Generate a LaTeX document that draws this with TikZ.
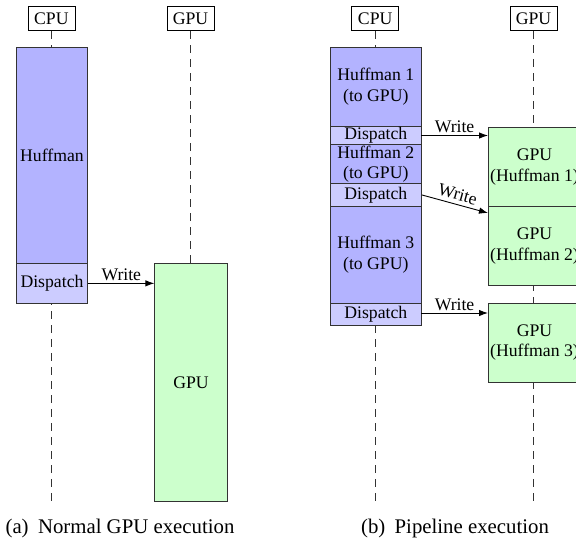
\documentclass[tikz,border=0pt]{standalone}
\usepackage{fontspec}
\setmainfont{Liberation Serif}
\usetikzlibrary{arrows.meta}
\definecolor{huffc}{HTML}{B3B3FF}
\definecolor{dispc}{HTML}{CCCCFF}
\definecolor{gpuc}{HTML}{CCFFCC}
\definecolor{edgec}{HTML}{333333}
\newcommand\dfont{\fontsize{17.7}{20.5}\selectfont}
\newcommand\cfont{\fontsize{20.8}{24}\selectfont}
\tikzset{
  lbl/.style={draw=black, line width=0.8pt, minimum width=47, minimum height=24.5, inner sep=0pt, font=\dfont},
  bar/.style={draw=edgec, line width=1pt, inner sep=0pt, anchor=north west, font=\dfont, align=center},
  huff/.style={bar, fill=huffc},
  disp/.style={bar, fill=dispc},
  gpub/.style={bar, fill=gpuc},
  life/.style={draw=edgec, line width=1pt, dash pattern=on 8pt off 6pt},
  arr/.style={draw=black, line width=0.9pt, -{Latex[length=9pt,width=6.5pt]}},
  wlab/.style={font=\dfont, inner sep=2pt}
}
\begin{document}
\begin{tikzpicture}[x=1pt,y=-1pt]
\useasboundingbox (0,0) rectangle (576,542);
% ---------- (a) ----------
\node[lbl] (cpuA) at (51.4,18.6) {CPU};
\node[lbl] (gpuA) at (190.5,18.6) {GPU};
\coordinate (cpuAend) at (51.4,501);
\coordinate (gpuAend) at (190.5,501);
\draw[life] (cpuA.south) -- (cpuAend);
\draw[life] (gpuA.south) -- (gpuAend);
\node[huff, minimum width=71.6, minimum height=216] (hA) at (15.7,46.7) {Huffman};
\node[disp, minimum width=71.6, minimum height=40.3] (dA) at (15.7,262.7) {Dispatch};
\node[gpub, minimum width=72.5, minimum height=238.3] (gA) at (154.3,262.7) {GPU};
\draw[arr] (dA.east) -- (gA.west |- dA.east) node[midway, above, wlab] {Write};
\node[font=\cfont] (capA) at (120,528) {(a)\hspace{0.45em}Normal GPU execution};
% ---------- (b) ----------
\node[lbl] (cpuB) at (375.2,18.6) {CPU};
\node[lbl] (gpuB) at (533.5,18.6) {GPU};
\coordinate (cpuBend) at (375.2,501);
\coordinate (gpuBend) at (533.5,501);
\draw[life] (cpuB.south) -- (cpuBend);
\draw[life] (gpuB.south) -- (gpuBend);
\node[huff, minimum width=91.6, minimum height=79.3] (h1) at (329.5,46.7) {Huffman 1\\(to GPU)};
\node[disp, minimum width=91.6, minimum height=18] (d1) at (329.5,126) {Dispatch};
\node[huff, minimum width=91.6, minimum height=39] (h2) at (329.5,144) {Huffman 2\\(to GPU)};
\node[disp, minimum width=91.6, minimum height=23] (d2) at (329.5,183) {Dispatch};
\node[huff, minimum width=91.6, minimum height=96.7] (h3) at (329.5,206) {Huffman 3\\(to GPU)};
\node[disp, minimum width=91.6, minimum height=22.3] (d3) at (329.5,302.7) {Dispatch};
\node[gpub, minimum width=92, minimum height=79.3] (g1) at (488,126.7) {GPU\\(Huffman 1)};
\node[gpub, minimum width=92, minimum height=79] (g2) at (488,206) {GPU\\(Huffman 2)};
\node[gpub, minimum width=92, minimum height=79] (g3) at (488,302.7) {GPU\\(Huffman 3)};
\coordinate (a1s) at (421.1,135.5);
\coordinate (a3s) at (421.1,313);
\draw[arr] (a1s) -- (g1.west |- a1s) node[midway, above, wlab] {Write};
\draw[arr] (d2.east) -- ([yshift=-7pt]g2.north west) node[midway, above=1.5pt, sloped, wlab] {Write};
\draw[arr] (a3s) -- (g3.west |- a3s) node[midway, above, wlab] {Write};
\node[font=\cfont] (capB) at (455,528) {(b)\hspace{0.45em}Pipeline execution};
\end{tikzpicture}
\end{document}
